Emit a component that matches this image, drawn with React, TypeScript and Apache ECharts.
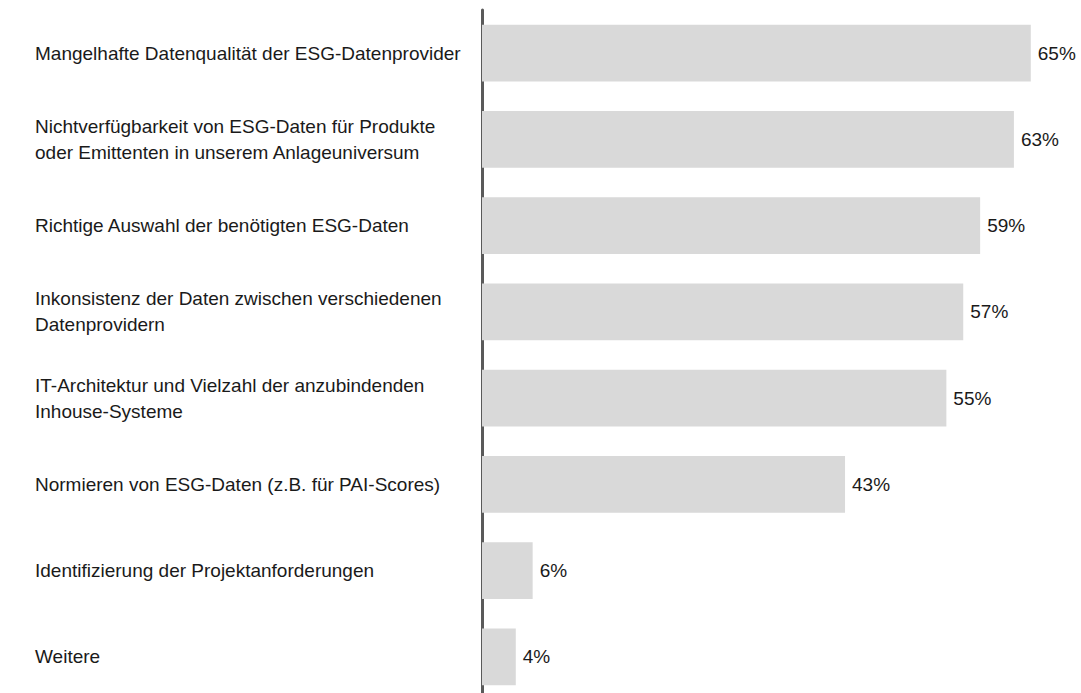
import React, { useEffect, useRef } from "react";
import * as echarts from "echarts";

const categories = [
  "Mangelhafte Datenqualität der ESG-Datenprovider",
  "Nichtverfügbarkeit von ESG-Daten für Produkte\noder Emittenten in unserem Anlageuniversum",
  "Richtige Auswahl der benötigten ESG-Daten",
  "Inkonsistenz der Daten zwischen verschiedenen\nDatenprovidern",
  "IT-Architektur und Vielzahl der anzubindenden\nInhouse-Systeme",
  "Normieren von ESG-Daten (z.B. für PAI-Scores)",
  "Identifizierung der Projektanforderungen",
  "Weitere",
];
const values = [65, 63, 59, 57, 55, 43, 6, 4];

export default function App() {
  const ref = useRef<HTMLDivElement>(null);
  useEffect(() => {
    if (!ref.current) return;
    const chart = echarts.init(ref.current, undefined, { renderer: "svg" });
    const font = "'Liberation Sans', Arial, sans-serif";
    chart.setOption({
      animation: false,
      backgroundColor: "#ffffff",
      grid: {
        left: 482,
        width: 591,
        top: 10,
        height: 690,
        containLabel: false,
        outerBoundsMode: "none",
      },
      xAxis: {
        type: "value",
        min: 0,
        max: 70,
        show: false,
      },
      yAxis: {
        type: "category",
        data: categories,
        inverse: true,
        axisLine: { show: true, lineStyle: { color: "#5a5a5a", width: 3 } },
        axisTick: { show: false },
        splitLine: { show: false },
        axisLabel: {
          align: "left",
          margin: 447,
          fontSize: 19,
          lineHeight: 26,
          color: "#1a1a1a",
          fontFamily: font,
        },
      },
      series: [
        {
          type: "bar",
          data: values,
          barCategoryGap: "34%",
          itemStyle: { color: "#d9d9d9" },
          label: {
            show: true,
            position: "right",
            distance: 7,
            formatter: "{c}%",
            fontSize: 19,
            color: "#1a1a1a",
            fontFamily: font,
          },
        },
      ],
    });
    return () => chart.dispose();
  }, []);
  return (
    <div
      ref={ref}
      style={{ position: "fixed", left: 0, top: 0, width: 1081, height: 693 }}
    />
  );
}
